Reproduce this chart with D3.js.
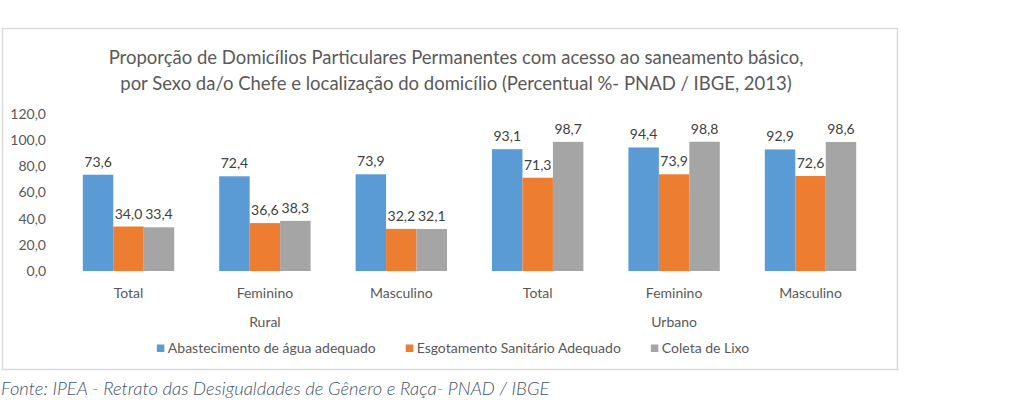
<!DOCTYPE html>
<html>
<head>
<meta charset="utf-8">
<script src="https://cdn.jsdelivr.net/npm/d3@7"></script>
<style>
  body { margin: 0; background: #fff; }
  text { font-family: Lato, 'Open Sans', sans-serif; }
</style>
</head>
<body>
<svg id="chart" width="1024" height="407"></svg>
<script>
// categories (sexo da/o chefe) and the localização they belong to
const categories = ['Total', 'Feminino', 'Masculino', 'Total', 'Feminino', 'Masculino'];
const groups = ['Rural', 'Urbano'];
const seriesNames = ['Abastecimento de água adequado', 'Esgotamento Sanitário Adequado', 'Coleta de Lixo'];

// series values (percent)
const agua = [73.6, 72.4, 73.9, 93.1, 94.4, 92.9];
const esgoto = [34.0, 36.6, 32.2, 71.3, 73.9, 72.6];
const lixo = [33.4, 38.3, 32.1, 98.7, 98.8, 98.6];

const yTicks = [0, 20, 40, 60, 80, 100, 120];

const colors = ['#5b9bd5', '#ed7d31', '#a5a5a5'];
const textColor = '#595959';

const svg = d3.select('#chart');
const series = [agua, esgoto, lixo];

// portuguese style numbers: 73,6
const pt = d3.formatLocale({ decimal: ',', thousands: '.', grouping: [3], currency: ['R$', ''] });
const fmt = pt.format('.1f');

// chart frame
svg.append('rect')
  .attr('x', 2.5)
  .attr('y', 28.5)
  .attr('width', 895)
  .attr('height', 341)
  .attr('fill', '#fff')
  .attr('stroke', '#d9d9d9')
  .attr('stroke-width', 1.5);

// title
const title = svg.append('text')
  .attr('x', 456)
  .attr('text-anchor', 'middle')
  .attr('fill', textColor)
  .style('font-size', '18.5px');
title.append('tspan').attr('x', 456).attr('y', 64)
  .text('Proporção de Domicílios Particulares Permanentes com acesso ao saneamento básico,');
title.append('tspan').attr('x', 456).attr('y', 90)
  .text('por Sexo da/o Chefe e localização do domicílio (Percentual %- PNAD / IBGE, 2013)');

// scales
const x0 = d3.scaleBand()
  .domain(d3.range(categories.length))
  .range([60.3, 878.7])
  .paddingInner(0.33)
  .paddingOuter(0.165);

const x1 = d3.scaleBand()
  .domain(d3.range(series.length))
  .range([0, x0.bandwidth()]);

const y = d3.scaleLinear()
  .domain([0, 120])
  .range([271, 114]);

// y axis, no line, no ticks
const yAxis = svg.append('g')
  .attr('transform', 'translate(50,0)')
  .call(d3.axisLeft(y).tickValues(yTicks).tickSize(0).tickPadding(4).tickFormat(fmt));
yAxis.select('.domain').remove();
yAxis.selectAll('text')
  .attr('fill', textColor)
  .style('font-family', 'Lato, sans-serif')
  .style('font-size', '14px');

// bars
const groupsG = svg.selectAll('g.cat')
  .data(categories)
  .enter()
  .append('g')
  .attr('class', 'cat')
  .attr('transform', (d, i) => `translate(${x0(i)},0)`);

groupsG.selectAll('rect')
  .data((d, i) => series.map((s, k) => ({ k, v: s[i] })))
  .enter()
  .append('rect')
  .attr('x', (d) => x1(d.k))
  .attr('y', (d) => y(d.v))
  .attr('width', x1.bandwidth())
  .attr('height', (d) => y(0) - y(d.v))
  .attr('fill', (d) => colors[d.k]);

// data labels
groupsG.selectAll('text.val')
  .data((d, i) => series.map((s, k) => ({ k, v: s[i] })))
  .enter()
  .append('text')
  .attr('class', 'val')
  .attr('x', (d) => x1(d.k) + x1.bandwidth() / 2)
  .attr('y', (d) => y(d.v) - 8)
  .attr('text-anchor', 'middle')
  .attr('fill', '#404040')
  .style('font-size', '14px')
  .text((d) => fmt(d.v));

// category labels
svg.selectAll('text.cat')
  .data(categories)
  .enter()
  .append('text')
  .attr('class', 'cat')
  .attr('x', (d, i) => x0(i) + x0.bandwidth() / 2)
  .attr('y', 298)
  .attr('text-anchor', 'middle')
  .attr('fill', textColor)
  .style('font-size', '14px')
  .text((d) => d);

// group labels (Rural / Urbano) centred under their three categories
svg.selectAll('text.grp')
  .data(groups)
  .enter()
  .append('text')
  .attr('class', 'grp')
  .attr('x', (d, g) => (x0(g * 3) + x0(g * 3 + 2) + x0.bandwidth()) / 2)
  .attr('y', 327)
  .attr('text-anchor', 'middle')
  .attr('fill', textColor)
  .style('font-size', '14px')
  .text((d) => d);

// legend, centred on the frame
const legend = svg.append('g');
const items = legend.selectAll('g')
  .data(seriesNames)
  .enter()
  .append('g');
items.append('rect')
  .attr('width', 7.5)
  .attr('height', 7.5)
  .attr('y', 344.5)
  .attr('fill', (d, i) => colors[i]);
items.append('text')
  .attr('x', 11)
  .attr('y', 353)
  .attr('fill', textColor)
  .style('font-size', '14px')
  .text((d) => d);

let cursor = 0;
items.each(function () {
  const w = d3.select(this).select('text').node().getComputedTextLength() + 11;
  d3.select(this).attr('transform', `translate(${cursor},0)`);
  cursor += w + 30;
});
const total = cursor - 30;
legend.attr('transform', `translate(${453 - total / 2},0)`);

// source note
svg.append('text')
  .attr('x', 1)
  .attr('y', 395)
  .attr('fill', '#44546a')
  .style('font-size', '18.4px')
  .style('font-style', 'italic')
  .style('font-weight', 300)
  .text('Fonte: IPEA - Retrato das Desigualdades de Gênero e Raça- PNAD / IBGE');
</script>
</body>
</html>
